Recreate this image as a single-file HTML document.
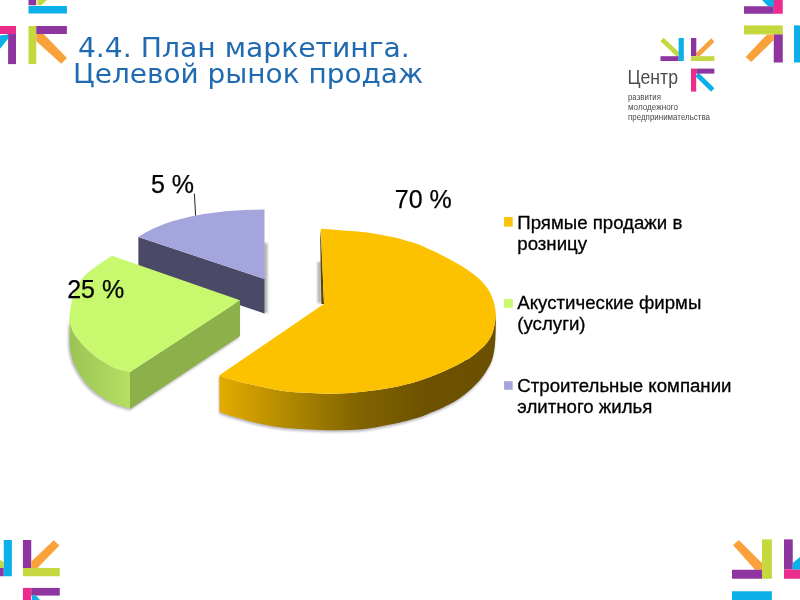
<!DOCTYPE html>
<html lang="ru">
<head>
<meta charset="utf-8">
<title>4.4. План маркетинга. Целевой рынок продаж</title>
<style>
html,body{margin:0;padding:0;background:#fff;}
body{width:800px;height:600px;overflow:hidden;position:relative;font-family:"Liberation Sans",sans-serif;}
svg{position:absolute;left:0;top:0;display:block;}
.title{font-family:"DejaVu Sans","Liberation Sans",sans-serif;font-size:26px;fill:#1f6ab0;}
.lbl{font-family:"Liberation Sans",sans-serif;font-size:25px;fill:#000;stroke:#000;stroke-width:0.25px;}
.leg{font-family:"Liberation Sans",sans-serif;font-size:18.65px;fill:#000;stroke:#000;stroke-width:0.3px;}
.logo1{font-family:"Liberation Sans",sans-serif;font-size:19.8px;fill:#4d4d4d;}
.logo2{font-family:"Liberation Sans",sans-serif;font-size:8.2px;fill:#4a4a4a;}
</style>
</head>
<body>
<svg width="800" height="600" viewBox="0 0 800 600">
<defs>
<linearGradient id="gOr" x1="220" y1="0" x2="496" y2="0" gradientUnits="userSpaceOnUse">
<stop offset="0" stop-color="#e2ac00"/>
<stop offset="0.08" stop-color="#d4a000"/>
<stop offset="0.25" stop-color="#b08800"/>
<stop offset="0.5" stop-color="#826400"/>
<stop offset="0.75" stop-color="#6c5200"/>
<stop offset="1" stop-color="#6a5000"/>
</linearGradient>
<linearGradient id="gGr" x1="70" y1="0" x2="131" y2="0" gradientUnits="userSpaceOnUse">
<stop offset="0" stop-color="#9cc455"/>
<stop offset="1" stop-color="#b4e062"/>
</linearGradient>
<filter id="blur" x="-10%" y="-10%" width="120%" height="120%"><feGaussianBlur stdDeviation="1.200"/></filter>
</defs>

<!-- corner decorations -->
<g id="corner-tl">
<rect x="28.5" y="6" width="38.400" height="7.500" fill="#0bb0e8"/>
<rect x="28.5" y="0" width="7.750" height="5.250" fill="#8e35a0"/>
<polygon points="37.5,0 46.9,0 41.25,5.25 37.5,5.25" fill="#c5d93f"/>
<rect x="0" y="26" width="16" height="8" fill="#ec2c8c"/>
<rect x="8.1" y="34" width="7.900" height="30.100" fill="#8e35a0"/>
<polygon points="0,35.6 8.1,34.4 8.1,38.75 0,48.75" fill="#0bb0e8"/>
<rect x="28.5" y="26" width="7.750" height="38.100" fill="#c5d93f"/>
<rect x="36.25" y="26" width="30.650" height="8" fill="#8e35a0"/>
<polygon points="36.25,34 43.75,34 66.9,58.1 61.25,63.75 36.25,41.25" fill="#f9a23c"/>
</g>
<g id="corner-tr">
<polygon points="762,0 774,0 774,6.25 768,6.25" fill="#0bb0e8"/>
<rect x="773.75" y="0" width="9" height="13.750" fill="#ec2c8c"/>
<rect x="744" y="6.25" width="29.750" height="7.500" fill="#8e35a0"/>
<rect x="744" y="25.4" width="38.750" height="9" fill="#c5d93f"/>
<rect x="773.75" y="34.4" width="9" height="28.100" fill="#8e35a0"/>
<polygon points="767,34.4 773.75,34.4 773.75,40 751.25,62.1 745.6,56.9" fill="#f9a23c"/>
<rect x="794" y="25.4" width="6" height="37.100" fill="#0bb0e8"/>
</g>
<g id="corner-bl">
<polygon points="0,560 3.75,562 3.75,568 0,568" fill="#c5d93f"/>
<rect x="0" y="568" width="3.750" height="8.250" fill="#8e35a0"/>
<rect x="3.75" y="540" width="8.150" height="36.250" fill="#0bb0e8"/>
<rect x="22.9" y="540" width="8.350" height="28" fill="#8e35a0"/>
<rect x="22.9" y="568" width="36.850" height="8.250" fill="#c5d93f"/>
<polygon points="31.25,561.5 53.75,540.25 59.4,545.6 37.5,568 31.25,568" fill="#f9a23c"/>
<rect x="22.9" y="587.9" width="8.350" height="12.100" fill="#ec2c8c"/>
<rect x="31.25" y="587.9" width="28.500" height="7.700" fill="#8e35a0"/>
<polygon points="32,595.6 36,595.6 40,600 32,600" fill="#0bb0e8"/>
</g>
<g id="corner-br">
<polygon points="733,545 738.75,540 762,563 762,569.75 755,569.75" fill="#f9a23c"/>
<rect x="732" y="569.75" width="30" height="9" fill="#8e35a0"/>
<rect x="762" y="539.4" width="9.900" height="39.350" fill="#c5d93f"/>
<rect x="732" y="591.25" width="39.900" height="8.750" fill="#0bb0e8"/>
<rect x="784" y="539.4" width="8.750" height="30" fill="#8e35a0"/>
<rect x="784" y="569.4" width="16" height="9.350" fill="#ec2c8c"/>
<polygon points="792.75,563 800,557 800,569.4 792.75,569.4" fill="#0bb0e8"/>
</g>

<!-- logo -->
<g id="logo">
<line x1="662" y1="39.5" x2="678.500" y2="55" stroke="#c5d93f" stroke-width="4.600"/>
<rect x="678.6" y="38" width="5.200" height="23" fill="#0bb0e8"/>
<rect x="660.5" y="56.2" width="18.100" height="4.800" fill="#8e35a0"/>
<line x1="712.8" y1="40" x2="697" y2="55.500" stroke="#f9a23c" stroke-width="4.600"/>
<rect x="691" y="38" width="5.300" height="18.200" fill="#8e35a0"/>
<rect x="691" y="56.2" width="23.400" height="4.800" fill="#c5d93f"/>
<line x1="697" y1="74.5" x2="712.800" y2="90" stroke="#0bb0e8" stroke-width="4.800"/>
<rect x="691" y="68.6" width="5.200" height="23" fill="#ec2c8c"/>
<rect x="696.2" y="68.6" width="18.200" height="5" fill="#8e35a0"/>
<text class="logo1" x="627.5" y="83.700" textLength="50.500" lengthAdjust="spacingAndGlyphs">Центр</text>
<text class="logo2" x="628" y="100.200" textLength="33" lengthAdjust="spacingAndGlyphs">развития</text>
<text class="logo2" x="628" y="109.700" textLength="50" lengthAdjust="spacingAndGlyphs">молодежного</text>
<text class="logo2" x="628" y="119.700" textLength="82" lengthAdjust="spacingAndGlyphs">предпринимательства</text>
</g>

<!-- title -->
<text class="title" transform="translate(77.9,56.5) scale(1.0855,1)">4.4. План маркетинга.</text>
<text class="title" transform="translate(73,83.3) scale(1.075,1)">Целевой рынок продаж</text>

<g id="pie">
<g filter="url(#blur)" opacity="0.45">
<path d="M69.5,318.0 C69.8,319.3 70.1,323.2 71.0,326.0 C71.9,328.8 72.7,331.5 75.0,335.0 C77.3,338.5 81.7,343.5 85.0,347.0 C88.3,350.5 91.7,353.4 95.0,356.0 C98.3,358.6 101.7,360.5 105.0,362.5 C108.3,364.5 110.8,366.4 115.0,368.0 C119.2,369.6 127.5,371.3 130.0,372.0 L130.0,409.0 C127.5,408.2 119.2,405.7 115.0,404.0 C110.8,402.3 108.3,401.0 105.0,399.0 C101.7,397.0 98.3,394.8 95.0,392.0 C91.7,389.2 88.3,386.3 85.0,382.0 C81.7,377.7 77.4,371.2 75.0,366.0 C72.6,360.8 71.4,356.0 70.5,351.0 C69.6,346.0 69.8,338.5 69.7,336.0 Z" fill="#667" transform="translate(-1.5,1.5)"/>
<path d="M130,372 L240,300.3 L240,336 L130,409 Z" fill="#667" transform="translate(-1,2)"/>
<path d="M219.3,375.2 C221.6,376.0 227.1,378.2 233.3,380.0 C239.5,381.8 248.8,384.0 256.6,385.7 C264.4,387.4 272.8,389.3 280.0,390.4 C287.2,391.5 293.3,392.0 300.0,392.5 C306.7,393.0 313.3,393.3 320.0,393.5 C326.7,393.7 333.3,393.8 340.0,393.5 C346.7,393.2 353.3,392.7 360.0,392.0 C366.7,391.3 374.2,390.3 380.0,389.5 C385.8,388.7 390.0,388.0 395.0,387.0 C400.0,386.0 405.8,384.6 410.0,383.5 C414.2,382.4 416.7,381.6 420.0,380.5 C423.3,379.4 426.7,378.2 430.0,377.0 C433.3,375.8 436.7,374.4 440.0,373.0 C443.3,371.6 446.7,370.1 450.0,368.5 C453.3,366.9 457.3,364.9 460.0,363.5 C462.7,362.1 464.1,361.1 466.0,360.0 C467.9,358.9 468.5,359.2 471.7,356.7 C474.9,354.2 481.7,348.6 485.0,345.0 C488.3,341.4 490.1,338.3 491.7,335.0 C493.3,331.7 493.8,328.6 494.5,325.0 C495.2,321.4 495.6,315.5 495.8,313.6 C495.8,316.3 495.9,324.4 495.7,330.0 C495.5,335.6 495.3,342.0 494.7,347.0 C494.1,352.0 493.3,356.2 492.0,360.0 C490.7,363.8 489.0,366.7 487.0,370.0 C485.0,373.3 482.8,376.7 480.0,380.0 C477.2,383.3 473.3,387.0 470.0,390.0 C466.7,393.0 463.3,395.7 460.0,398.0 C456.7,400.3 453.3,402.2 450.0,404.0 C446.7,405.8 443.3,407.5 440.0,409.0 C436.7,410.5 433.3,411.7 430.0,413.0 C426.7,414.3 425.0,415.4 420.0,417.0 C415.0,418.6 406.7,420.9 400.0,422.5 C393.3,424.1 386.7,425.3 380.0,426.5 C373.3,427.7 366.7,428.9 360.0,429.5 C353.3,430.1 346.7,430.2 340.0,430.3 C333.3,430.4 326.7,430.2 320.0,430.0 C313.3,429.8 306.7,429.4 300.0,429.0 C293.3,428.6 287.2,428.3 280.0,427.3 C272.8,426.3 264.4,424.8 256.6,423.0 C248.8,421.2 239.5,418.4 233.3,416.6 C227.1,414.8 221.8,412.8 219.5,412.0 Z" fill="#667" transform="translate(-0.5,2)"/>
<rect x="263" y="243" width="4.5" height="70" fill="#555"/>
<rect x="317.500" y="262" width="4" height="41" fill="#555"/>
</g>
<path d="M138.4,237 L264.5,279 L264.5,313.5 L138.4,271 Z" fill="#4a4a68"/>
<path d="M264.5,279 L138.4,237 A139.2,48 0 0 1 264.5,209.4 Z" fill="#a5a5de"/>
<path d="M69.5,318.0 C69.8,319.3 70.1,323.2 71.0,326.0 C71.9,328.8 72.7,331.5 75.0,335.0 C77.3,338.5 81.7,343.5 85.0,347.0 C88.3,350.5 91.7,353.4 95.0,356.0 C98.3,358.6 101.7,360.5 105.0,362.5 C108.3,364.5 110.8,366.4 115.0,368.0 C119.2,369.6 127.5,371.3 130.0,372.0 L130.0,409.0 C127.5,408.2 119.2,405.7 115.0,404.0 C110.8,402.3 108.3,401.0 105.0,399.0 C101.7,397.0 98.3,394.8 95.0,392.0 C91.7,389.2 88.3,386.3 85.0,382.0 C81.7,377.7 77.4,371.2 75.0,366.0 C72.6,360.8 71.4,356.0 70.5,351.0 C69.6,346.0 69.8,338.5 69.7,336.0 Z" fill="url(#gGr)"/>
<path d="M130,372 L240,300.3 L240,336 L130,409 Z" fill="#8db14a"/>
<path d="M240.0,300.3 L112.0,255.8 C109.7,257.3 102.6,261.6 98.0,265.0 C93.4,268.4 87.8,272.3 84.3,276.0 C80.8,279.7 79.0,283.0 77.0,287.0 C75.0,291.0 73.2,294.8 72.0,300.0 C70.8,305.2 69.7,313.7 69.5,318.0 C69.3,322.3 70.1,323.2 71.0,326.0 C71.9,328.8 72.7,331.5 75.0,335.0 C77.3,338.5 81.7,343.5 85.0,347.0 C88.3,350.5 91.7,353.4 95.0,356.0 C98.3,358.6 101.7,360.5 105.0,362.5 C108.3,364.5 110.8,366.4 115.0,368.0 C119.2,369.6 127.5,371.3 130.0,372.0 Z" fill="#c8f86e"/>
<path d="M320.2,240 L320.8,230 L324,304 L321.4,304 Z" fill="#5a4400"/>
<path d="M219.3,375.2 C221.6,376.0 227.1,378.2 233.3,380.0 C239.5,381.8 248.8,384.0 256.6,385.7 C264.4,387.4 272.8,389.3 280.0,390.4 C287.2,391.5 293.3,392.0 300.0,392.5 C306.7,393.0 313.3,393.3 320.0,393.5 C326.7,393.7 333.3,393.8 340.0,393.5 C346.7,393.2 353.3,392.7 360.0,392.0 C366.7,391.3 374.2,390.3 380.0,389.5 C385.8,388.7 390.0,388.0 395.0,387.0 C400.0,386.0 405.8,384.6 410.0,383.5 C414.2,382.4 416.7,381.6 420.0,380.5 C423.3,379.4 426.7,378.2 430.0,377.0 C433.3,375.8 436.7,374.4 440.0,373.0 C443.3,371.6 446.7,370.1 450.0,368.5 C453.3,366.9 457.3,364.9 460.0,363.5 C462.7,362.1 464.1,361.1 466.0,360.0 C467.9,358.9 468.5,359.2 471.7,356.7 C474.9,354.2 481.7,348.6 485.0,345.0 C488.3,341.4 490.1,338.3 491.7,335.0 C493.3,331.7 493.8,328.6 494.5,325.0 C495.2,321.4 495.6,315.5 495.8,313.6 C495.8,316.3 495.9,324.4 495.7,330.0 C495.5,335.6 495.3,342.0 494.7,347.0 C494.1,352.0 493.3,356.2 492.0,360.0 C490.7,363.8 489.0,366.7 487.0,370.0 C485.0,373.3 482.8,376.7 480.0,380.0 C477.2,383.3 473.3,387.0 470.0,390.0 C466.7,393.0 463.3,395.7 460.0,398.0 C456.7,400.3 453.3,402.2 450.0,404.0 C446.7,405.8 443.3,407.5 440.0,409.0 C436.7,410.5 433.3,411.7 430.0,413.0 C426.7,414.3 425.0,415.4 420.0,417.0 C415.0,418.6 406.7,420.9 400.0,422.5 C393.3,424.1 386.7,425.3 380.0,426.5 C373.3,427.7 366.7,428.9 360.0,429.5 C353.3,430.1 346.7,430.2 340.0,430.3 C333.3,430.4 326.7,430.2 320.0,430.0 C313.3,429.8 306.7,429.4 300.0,429.0 C293.3,428.6 287.2,428.3 280.0,427.3 C272.8,426.3 264.4,424.8 256.6,423.0 C248.8,421.2 239.5,418.4 233.3,416.6 C227.1,414.8 221.8,412.8 219.5,412.0 Z" fill="url(#gOr)"/>
<path d="M324.0,304.0 L320.8,228.8 C323.6,229.0 330.1,229.3 337.5,229.9 C344.9,230.5 355.8,231.0 365.0,232.2 C374.2,233.4 385.8,235.7 392.5,237.0 C399.2,238.3 400.8,239.0 405.0,240.2 C409.2,241.4 413.6,242.5 418.0,244.2 C422.4,245.9 426.8,248.0 431.7,250.3 C436.6,252.6 442.2,255.4 447.5,258.2 C452.8,261.0 458.1,263.6 463.3,267.0 C468.6,270.4 474.8,275.0 479.0,278.8 C483.2,282.6 486.2,286.3 488.6,290.0 C491.0,293.7 492.2,297.1 493.4,301.0 C494.6,304.9 495.6,309.6 495.8,313.6 C496.0,317.6 495.2,321.4 494.5,325.0 C493.8,328.6 493.3,331.7 491.7,335.0 C490.1,338.3 488.3,341.4 485.0,345.0 C481.7,348.6 474.9,354.2 471.7,356.7 C468.5,359.2 467.9,358.9 466.0,360.0 C464.1,361.1 462.7,362.1 460.0,363.5 C457.3,364.9 453.3,366.9 450.0,368.5 C446.7,370.1 443.3,371.6 440.0,373.0 C436.7,374.4 433.3,375.8 430.0,377.0 C426.7,378.2 423.3,379.4 420.0,380.5 C416.7,381.6 414.2,382.4 410.0,383.5 C405.8,384.6 400.0,386.0 395.0,387.0 C390.0,388.0 385.8,388.7 380.0,389.5 C374.2,390.3 366.7,391.3 360.0,392.0 C353.3,392.7 346.7,393.2 340.0,393.5 C333.3,393.8 326.7,393.7 320.0,393.5 C313.3,393.3 306.7,393.0 300.0,392.5 C293.3,392.0 287.2,391.5 280.0,390.4 C272.8,389.3 264.4,387.4 256.6,385.7 C248.8,384.0 239.5,381.8 233.3,380.0 C227.1,378.2 221.6,376.0 219.3,375.2 Z" fill="#fcc200"/>
</g>

<!-- labels -->
<line x1="194.4" y1="193.6" x2="195.600" y2="215.600" stroke="#222" stroke-width="1"/>
<text class="lbl" x="151" y="192.500">5 %</text>
<text class="lbl" x="67.200" y="297.600">25 %</text>
<text class="lbl" x="394.800" y="208.100">70 %</text>

<!-- legend -->
<rect x="504.1" y="217" width="8.600" height="9.600" fill="#fac200"/>
<text class="leg" x="517.300" y="228.700">Прямые продажи в</text>
<text class="leg" x="517.300" y="250.400">розницу</text>
<rect x="504.1" y="299" width="8.600" height="8.800" fill="#c8f86e"/>
<text class="leg" x="517.300" y="309">Акустические фирмы</text>
<text class="leg" x="517.300" y="330.400">(услуги)</text>
<rect x="504.1" y="381.2" width="8.600" height="8.600" fill="#a5a5de"/>
<text class="leg" x="517.300" y="391.600">Строительные компании</text>
<text class="leg" x="517.300" y="412.800">элитного жилья</text>
</svg>
</body>
</html>
